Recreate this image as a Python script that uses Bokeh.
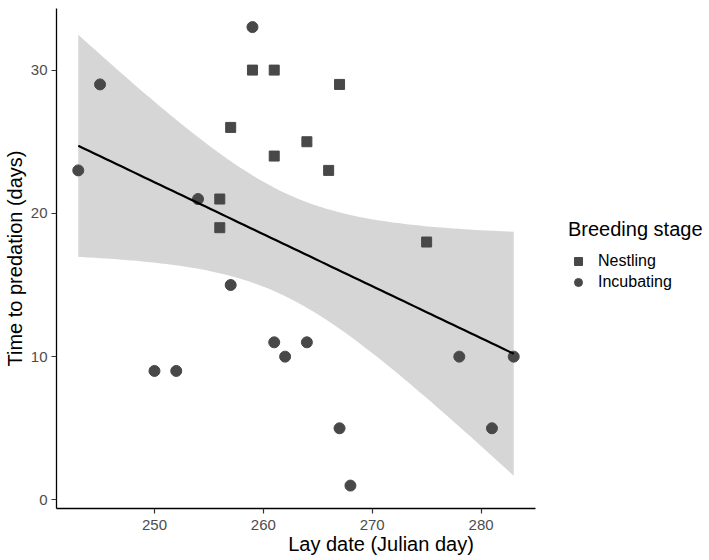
import numpy as np
from bokeh.plotting import figure
from bokeh.models import ColumnDataSource, Legend, LegendItem, FixedTicker, Range1d
from bokeh.embed import file_html
from bokeh.resources import INLINE

# Data
nest_day = [256, 256, 257, 259, 261, 261, 264, 266, 267, 275]
nest_time = [21, 19, 26, 30, 30, 24, 25, 23, 29, 18]
inc_day = [243, 245, 250, 252, 254, 257, 259, 261, 262, 264, 267, 268, 278, 281, 283]
inc_time = [23, 29, 9, 9, 21, 15, 33, 11, 10, 11, 5, 1, 10, 5, 10]
x_ticks = [250, 260, 270, 280]
y_ticks = [0, 10, 20, 30]

# Linear model fit (as geom_smooth(method="lm")) on all nests
xa = np.array(nest_day + inc_day, dtype=float)
ya = np.array(nest_time + inc_time, dtype=float)
n = len(xa)
mx, my = xa.mean(), ya.mean()
sxx = ((xa - mx) ** 2).sum()
slope = ((xa - mx) * (ya - my)).sum() / sxx
icpt = my - slope * mx
resid = ya - (icpt + slope * xa)
s = np.sqrt((resid ** 2).sum() / (n - 2))
tq = 2.0687  # t(0.975, df=23)
xs = np.linspace(xa.min(), xa.max(), 80)
fit = icpt + slope * xs
se = s * np.sqrt(1.0 / n + (xs - mx) ** 2 / sxx)
lo, hi = fit - tq * se, fit + tq * se

FONT = "Liberation Sans"
X0, X1 = 241, 285          # visible data extent of the x axis
PX_PER_DAY = 479 / (X1 - X0)
FRAME_W = 649              # frame extends under the legend area
x_end = X0 + FRAME_W / PX_PER_DAY

p = figure(frame_width=FRAME_W, frame_height=500, output_backend="svg", toolbar_location=None,
           x_range=Range1d(X0, x_end), y_range=Range1d(-0.6, 34.3),
           min_border_left=50, min_border_right=0, min_border_top=8, min_border_bottom=50)
p.outline_line_color = None
p.xgrid.visible = False
p.ygrid.visible = False
p.background_fill_color = "white"

p.varea(x=xs, y1=lo, y2=hi, fill_color="#999999", fill_alpha=0.4)

src_n = ColumnDataSource(dict(x=nest_day, y=nest_time))
src_i = ColumnDataSource(dict(x=inc_day, y=inc_time))
sq = p.scatter("x", "y", source=src_n, marker="square", size=10,
               fill_color="#484848", line_color="#484848")
ci = p.scatter("x", "y", source=src_i, marker="circle", size=11,
               fill_color="#484848", line_color="#484848")

p.line(xs, fit, line_color="black", line_width=2.2)

for ax in (p.xaxis[0], p.yaxis[0]):
    ax.axis_line_color = "black"
    ax.axis_line_width = 1.3
    ax.major_tick_line_color = "#333333"
    ax.major_tick_line_width = 1.2
    ax.major_tick_out = 5
    ax.major_tick_in = 0
    ax.minor_tick_line_color = None
    ax.major_label_text_font = FONT
    ax.major_label_text_font_size = "15px"
    ax.major_label_text_color = "#4D4D4D"
    ax.axis_label_text_font = FONT
    ax.axis_label_text_font_size = "20px"
    ax.axis_label_text_font_style = "normal"
    ax.axis_label_text_color = "black"

p.xaxis[0].bounds = (X0, X1)
p.xaxis[0].ticker = FixedTicker(ticks=x_ticks)
p.yaxis[0].ticker = FixedTicker(ticks=y_ticks)
p.xaxis[0].axis_label = "Lay date (Julian day)"
p.yaxis[0].axis_label = "Time to predation (days)"
p.xaxis[0].major_label_standoff = 6
p.yaxis[0].major_label_standoff = 4
p.xaxis[0].axis_label_standoff = 0
p.yaxis[0].axis_label_standoff = 2

legend = Legend(items=[LegendItem(label="Nestling", renderers=[sq]),
                       LegendItem(label="Incubating", renderers=[ci])],
                title="Breeding stage", location=(512, 216))
legend.border_line_color = None
legend.background_fill_alpha = 0
legend.title_text_font = FONT
legend.title_text_font_size = "20px"
legend.title_text_font_style = "normal"
legend.title_text_color = "black"
legend.title_standoff = 10
legend.label_text_font = FONT
legend.label_text_font_size = "16px"
legend.label_text_color = "black"
legend.glyph_width = 20
legend.glyph_height = 20
legend.label_standoff = 10
legend.spacing = 1
legend.margin = 0
legend.padding = 0
p.add_layout(legend, "center")

open("out.html", "w").write(file_html(p, INLINE))
